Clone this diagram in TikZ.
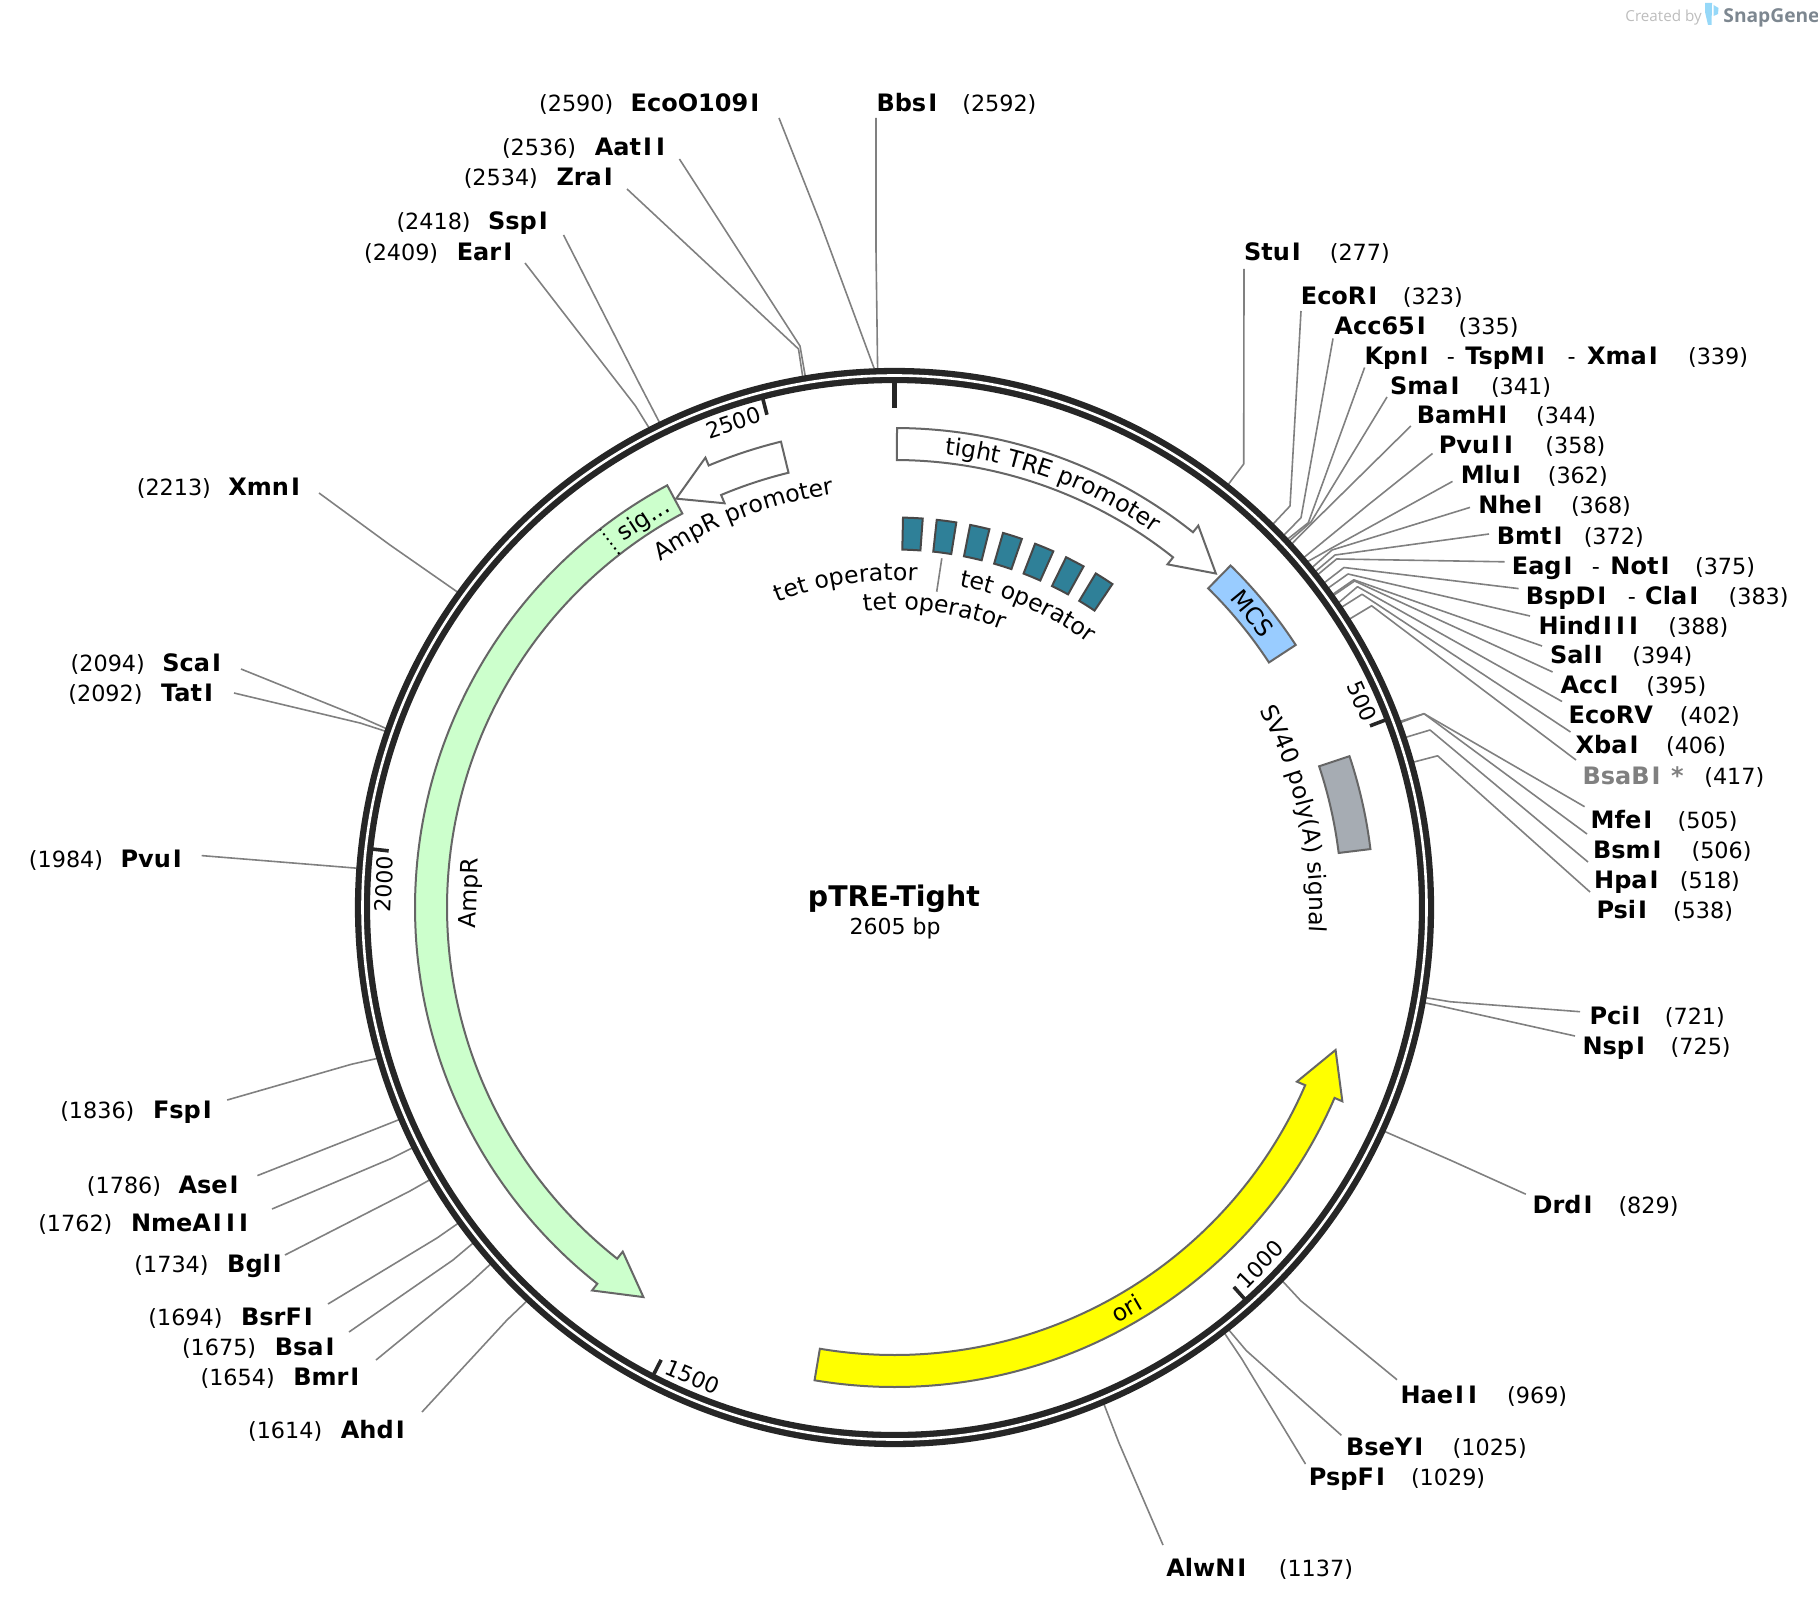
\documentclass[tikz,border=0pt]{standalone}
\usepackage{fontspec}
\setmainfont{DejaVu Sans}
\newfontfamily\wmfont{Open Sans}
\usetikzlibrary{decorations.text}
\definecolor{ringc}{HTML}{262626}
\definecolor{sitec}{HTML}{808080}
\definecolor{edgec}{HTML}{666666}
\definecolor{ampc}{HTML}{CCFFCC}
\definecolor{oric}{HTML}{FFFF00}
\definecolor{mcsc}{HTML}{99CCFF}
\definecolor{polyc}{HTML}{A6ACB3}
\definecolor{tetc}{HTML}{2F8098}
\definecolor{tetedge}{HTML}{474747}
\definecolor{wmblue}{HTML}{96D8F8}
\definecolor{wmgrey}{HTML}{BDBDBD}
\definecolor{wmdark}{HTML}{7D8790}
\def\kk{1.1594}
\newcommand\reg{\fontsize{11.15}{13}\selectfont}
\newcommand\featfont{\fontsize{11.8}{14}\selectfont}
\newcommand\Iw{\kern.085em I\kern.085em}
\newcommand\enz[6]{%
  \node[boldlab] (n#1) at ({\kk*#3},{\kk*#6+8.5}) {#2};
  \node[numlab] (m#1) at ({\kk*#5},{\kk*#6+8.5}) {#4};
}
\newcommand\cut[4]{%
  \pgfmathsetmacro\ang{#2/2605*360-90}
  \coordinate (a#1) at ([shift={(\ang:537)}]ctr);
  \coordinate (b#1) at #3;
  \coordinate (c#1) at #4;
  \draw[site] (a#1) -- (b#1) -- (c#1);
}
\newcommand\arcarrow[4]{% style, a0, neck, tip
  \draw[#1] plot[domain=#2:#3,samples=120] ({\x-90}:479.5) -- ({#3-90}:488) -- ({#4-90}:463.5) -- ({#3-90}:438.5) -- ({#3-90}:447.5) -- plot[domain=#3:#2,samples=120] ({\x-90}:447.5) -- cycle;
}
\newcommand\arcbox[3]{% style, a0, a1
  \draw[#1] plot[domain=#2:#3,samples=40] ({\x-90}:479.5) -- plot[domain=#3:#2,samples=40] ({\x-90}:447.5) -- cycle;
}
\newcommand\tetbox[1]{%
  \pgfmathsetmacro\aa{1.25+4.97*#1}
  \pgfmathsetmacro\ab{\aa+2.9}
  \draw[tetstyle] plot[domain=\aa:\ab,samples=6] ({\x-90}:390) -- plot[domain=\ab:\aa,samples=6] ({\x-90}:358) -- cycle;
}
\newcommand\arctext[4]{% radius, from, to, text
  \path[decorate,decoration={text along path,text align=center,text={|\featfont|#4}}] plot[domain=#2:#3,samples=100] ({\x-90}:#1);
}
\newcommand\ticklab[5]{% id, bp, label, angle, rot
  \pgfmathsetmacro\ang{#2/2605*360-90}
  \coordinate (t#1) at ([shift={(\ang:527)}]ctr);
  \coordinate (u#1) at ([shift={(\ang:509)}]ctr);
  \draw[tickline] (t#1) -- (u#1);
  \node[ticktext,rotate=#5] (l#1) at ([shift={(#4-90:511)}]ctr) {#3};
}
\tikzset{
  boldlab/.style={font=\fontsize{12}{14}\selectfont\bfseries,anchor=base west,inner sep=0pt,outer sep=0pt},
  numlab/.style={font=\reg,anchor=base west,inner sep=0pt,outer sep=0pt},
  site/.style={draw=sitec,line width=0.8pt,line join=round},
  featedge/.style={draw=edgec,line width=1pt,line join=miter},
  whitefeat/.style={featedge,fill=white},
  ampfeat/.style={featedge,fill=ampc},
  orifeat/.style={featedge,fill=oric},
  mcsfeat/.style={featedge,fill=mcsc},
  polyfeat/.style={featedge,fill=polyc},
  tetstyle/.style={draw=tetedge,line width=1pt,fill=tetc},
  tickline/.style={draw=ringc,line width=1.8pt},
  ticktext/.style={font=\fontsize{11}{13}\selectfont,inner sep=0pt},
  flab/.style={font=\featfont,inner sep=0pt},
}
\begin{document}
\begin{tikzpicture}[x=0.5pt,y=-0.5pt]
\useasboundingbox (0,0) rectangle (1818,1604);
\coordinate (ctr) at (894.5,907.5);

% cut-site leaders
\cut{ecoo}{2590}{(820,222)}{(779,118)}
\cut{bbs}{2592}{(876,250)}{(876,118)}
\cut{aat}{2536}{(800,346)}{(679.4,159)}
\cut{zra}{2534}{(798.5,349)}{(627,189)}
\cut{ssp}{2418}{(640,385)}{(563.5,235)}
\cut{ear}{2409}{(635.4,405.8)}{(525,263)}
\cut{xmn}{2213}{(390,545)}{(319,493)}
\cut{sca}{2094}{(360,717)}{(241,669)}
\cut{tat}{2092}{(360,723)}{(234,693)}
\cut{pvui}{1984}{(330,866)}{(201.7,855.6)}
\cut{fsp}{1836}{(351.3,1064.3)}{(227.2,1100)}
\cut{ase}{1786}{(373,1130)}{(257.4,1175.6)}
\cut{nme}{1762}{(390,1159)}{(272,1209)}
\cut{bgl}{1734}{(410,1191)}{(285,1255)}
\cut{bsr}{1694}{(437,1238)}{(328,1304)}
\cut{bsa}{1675}{(453,1260)}{(349,1332)}
\cut{bmr}{1654}{(470,1283)}{(376,1360)}
\cut{ahd}{1614}{(507,1320)}{(422,1412)}
\cut{alw}{1137}{(1119,1443)}{(1163,1545)}
\cut{psp}{1029}{(1241.7,1358.8)}{(1305.5,1464)}
\cut{bse}{1025}{(1246.4,1350.7)}{(1341.4,1435.3)}
\cut{hae}{969}{(1300.8,1300.8)}{(1397,1379.7)}
\cut{drd}{829}{(1450,1160)}{(1525.8,1194.2)}
\cut{nsp}{725}{(1440,1006)}{(1575,1036)}
\cut{pci}{721}{(1450,1001.7)}{(1580,1011.7)}
\cut{psi}{538}{(1437.6,755.8)}{(1590,892)}
\cut{hpa}{518}{(1430,730)}{(1588,862)}
\cut{bsm}{506}{(1424,713.7)}{(1587,834)}
\cut{mfe}{505}{(1424,713.7)}{(1584.6,806.7)}
\cut{bsab}{417}{(1371.6,605.8)}{(1576,760)}
\cut{xba}{406}{(1362,594.3)}{(1570.5,732)}
\cut{ecorv}{402}{(1357.5,586.7)}{(1562,701.5)}
\cut{acc}{395}{(1354.5,581)}{(1552.6,672)}
\cut{sal}{394}{(1353.7,579.8)}{(1542,646)}
\cut{hind}{388}{(1348,574)}{(1530,616)}
\cut{bsp}{383}{(1344,567.5)}{(1518.6,588.6)}
\cut{eag}{375}{(1336.6,559)}{(1504.5,561.8)}
\cut{bmt}{372}{(1335,555)}{(1489,534)}
\cut{nhe}{368}{(1332,550)}{(1470,507.4)}
\cut{mlu}{362}{(1331.7,548)}{(1452.5,481.4)}
\cut{pvuii}{358}{(1368,505)}{(1432.5,453.5)}
\cut{bam}{344}{(1316,519.5)}{(1410.8,426)}
\cut{sma}{341}{(1311,522)}{(1387,397)}
\cut{kpn}{339}{(1308.3,522.7)}{(1364.6,367.5)}
\cut{acc65}{335}{(1301,517.7)}{(1333,338.5)}
\cut{ecori}{323}{(1290,506)}{(1301,311)}
\cut{stu}{277}{(1243.7,464)}{(1244,269)}

% backbone
\draw[ringc,line width=7.6pt] (ctr) circle[radius=266pt];
\draw[white,line width=1.3pt] (ctr) circle[radius=266pt];

% ticks
\ticklab{t500}{500}{500}{66.2}{-66.2}
\ticklab{t1000}{1000}{1000}{134.3}{45.7}
\ticklab{t1500}{1500}{1500}{203.3}{-23.3}
\ticklab{t2000}{2000}{2000}{272.6}{87.4}
\ticklab{t2500}{2500}{2500}{341.6}{18.4}
\coordinate (t0a) at ([shift={(-90:527)}]ctr);
\coordinate (t0b) at ([shift={(-90:499)}]ctr);
\draw[tickline,line width=2.5pt] (t0a) -- (t0b);

% features
\begin{scope}[shift={(894.5,907.5)}]
\arcarrow{whitefeat}{0.3}{38.5}{43.9}
\arcarrow{whitefeat}{346.3}{337.2}{331.9}
\arcarrow{ampfeat}{331.7}{218.3}{212.8}
\arcarrow{orifeat}{189.6}{113.4}{107.9}
\arcbox{mcsfeat}{44.5}{56.8}
\arcbox{polyfeat}{71.6}{83}
\draw[black,line width=1pt,dotted] (322.1-90:448) -- (322.1-90:479);
\tetbox{0}\tetbox{1}\tetbox{2}\tetbox{3}\tetbox{4}\tetbox{5}\tetbox{6}
\arctext{456}{-0.5}{41.5}{tight TRE promoter}
\arctext{418}{-46}{3.6}{AmpR promoter}
\arctext{327}{-38}{21}{tet operator}
\arctext{298}{-12.3}{27.7}{tet operator}
\arctext{328}{3.9}{43.9}{tet operator}
\arctext{415}{50}{105}{SV40 poly(A) signal}
\node[flab,rotate=32.9] (siglab) at (327.1-90:461) {sig...};
\node[flab,rotate=-50.6] (mcslab) at (50.6-90:463.5) {MCS};
\node[flab,rotate=88.1] (amprlab) at (271.9-90:424) {AmpR};
\node[flab,rotate=30] (orilab) at (150-90:463) {ori};
\end{scope}
\coordinate (tetlinea) at (941.8,558.3);
\coordinate (tetlineb) at (936.7,591.7);
\draw[site] (tetlinea) -- (tetlineb);

% centre title
\node[font=\fontsize{14.2}{16}\selectfont\bfseries,inner sep=0pt] (title) at ({\kk*771},{\kk*775}) {pTRE-Tight};
\node[font=\fontsize{11}{13}\selectfont,inner sep=0pt] (size) at ({\kk*772},{\kk*801}) {2605 bp};

% labels
\enz{ecoo}{EcoO109\Iw}{544}{(2590)}{465}{89}
\enz{bbs}{Bbs\Iw}{756}{(2592)}{830}{89}
\enz{aat}{Aat\Iw\Iw}{513}{(2536)}{433}{127}
\enz{zra}{Zra\Iw}{480}{(2534)}{400}{153}
\enz{ssp}{Ssp\Iw}{421}{(2418)}{342}{191}
\enz{ear}{Ear\Iw}{394}{(2409)}{314}{217}
\enz{xmn}{Xmn\Iw}{197}{(2213)}{118}{420}
\enz{sca}{Sca\Iw}{140}{(2094)}{61}{572}
\enz{tat}{Tat\Iw}{139}{(2092)}{59}{598}
\enz{pvui}{Pvu\Iw}{104}{(1984)}{25}{741}
\enz{fsp}{Fsp\Iw}{132}{(1836)}{52}{957}
\enz{ase}{Ase\Iw}{154}{(1786)}{75}{1022}
\enz{nme}{NmeA\Iw\Iw\Iw}{113}{(1762)}{33}{1055}
\enz{bgl}{Bgl\Iw}{196}{(1734)}{116}{1090}
\enz{bsr}{BsrF\Iw}{208}{(1694)}{128}{1136}
\enz{bsa}{Bsa\Iw}{237}{(1675)}{157}{1162}
\enz{bmr}{Bmr\Iw}{253}{(1654)}{173}{1188}
\enz{ahd}{Ahd\Iw}{294}{(1614)}{214}{1233}
\enz{alw}{AlwN\Iw}{1006}{(1137)}{1103}{1352}
\enz{psp}{PspF\Iw}{1129}{(1029)}{1217}{1274}
\enz{bse}{BseY\Iw}{1161}{(1025)}{1253}{1248}
\enz{hae}{Hae\Iw\Iw}{1208}{(969)}{1300}{1203}
\enz{drd}{Drd\Iw}{1322}{(829)}{1396}{1039}
\enz{nsp}{Nsp\Iw}{1365}{(725)}{1441}{902}
\enz{pci}{Pci\Iw}{1371}{(721)}{1436}{876}
\enz{psi}{Psi\Iw}{1377}{(538)}{1443}{785}
\enz{hpa}{Hpa\Iw}{1375}{(518)}{1449}{759}
\enz{bsm}{Bsm\Iw}{1374}{(506)}{1459}{733}
\enz{mfe}{Mfe\Iw}{1372}{(505)}{1447}{707}
\node[boldlab,text=sitec] (nbsab) at ({\kk*1365},{\kk*669+8.5}) {BsaB\Iw{} *};
\node[numlab] (mbsab) at ({\kk*1470},{\kk*669+8.5}) {(417)};
\enz{xba}{Xba\Iw}{1359}{(406)}{1437}{643}
\enz{ecorv}{EcoRV}{1353}{(402)}{1449}{617}
\enz{acc}{Acc\Iw}{1346}{(395)}{1420}{591}
\enz{sal}{Sal\Iw}{1337}{(394)}{1408}{565}
\enz{hind}{Hind\Iw\Iw\Iw}{1327}{(388)}{1439}{540}
\enz{bsp}{BspD\Iw}{1316}{(383)}{1491}{514}
\node[numlab] (dbsp) at ({\kk*1404},{\kk*514+8.5}) {-};
\node[boldlab] (ncla) at ({\kk*1419},{\kk*514+8.5}) {Cla\Iw};
\enz{eag}{Eag\Iw}{1304}{(375)}{1462}{488}
\node[numlab] (deag) at ({\kk*1373},{\kk*488+8.5}) {-};
\node[boldlab] (nnot) at ({\kk*1389},{\kk*488+8.5}) {Not\Iw};
\enz{bmt}{Bmt\Iw}{1291}{(372)}{1366}{462}
\enz{nhe}{Nhe\Iw}{1275}{(368)}{1355}{436}
\enz{mlu}{Mlu\Iw}{1260}{(362)}{1335}{410}
\enz{pvuii}{Pvu\Iw\Iw}{1241}{(358)}{1333}{384}
\enz{bam}{BamH\Iw}{1222}{(344)}{1325}{358}
\enz{sma}{Sma\Iw}{1199}{(341)}{1286}{333}
\enz{kpn}{Kpn\Iw}{1177}{(339)}{1456}{307}
\node[numlab] (dkpn) at ({\kk*1248},{\kk*307+8.5}) {-};
\node[boldlab] (ntsp) at ({\kk*1264},{\kk*307+8.5}) {TspM\Iw};
\node[numlab] (dtsp) at ({\kk*1352},{\kk*307+8.5}) {-};
\node[boldlab] (nxma) at ({\kk*1369},{\kk*307+8.5}) {Xma\Iw};
\enz{acc65}{Acc65\Iw}{1151}{(335)}{1258}{281}
\enz{ecori}{EcoR\Iw}{1122}{(323)}{1210}{255}
\enz{stu}{Stu\Iw}{1073}{(277)}{1147}{217}

% watermark
\node[font=\wmfont\fontsize{7.6}{9}\selectfont,text=wmgrey,anchor=west,inner sep=0pt] (wmcreated) at (1625,17.5) {Created by};
\fill[wmblue] (1705,3) -- (1712,3) -- (1711.5,25) -- (1708,25) -- (1705,12) -- cycle;
\fill[wmblue] (1713.5,5) -- (1718.5,8) -- (1718,14) -- (1713.5,16) -- cycle;
\node[font=\wmfont\fontsize{9.6}{11}\bfseries\selectfont,text=wmdark,anchor=west,inner sep=0pt] (wmsnap) at (1723,17.5) {SnapGene};
\end{tikzpicture}
\end{document}
